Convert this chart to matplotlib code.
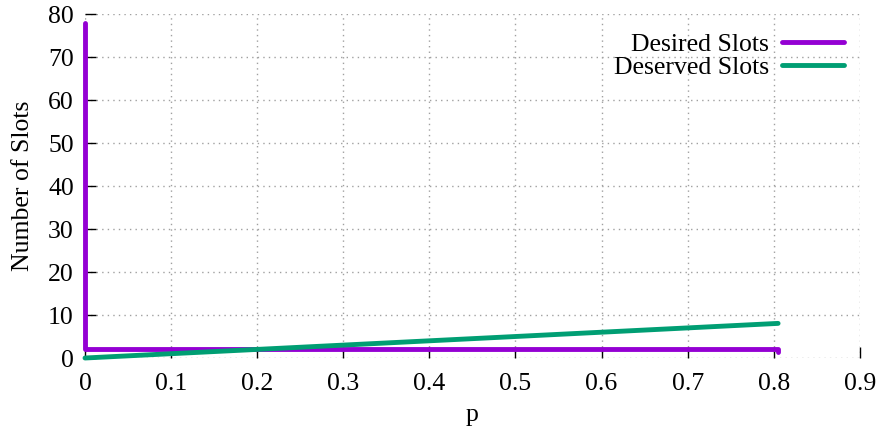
import matplotlib
matplotlib.use("Agg")
import matplotlib.pyplot as plt

# probability p and slot counts
p_desired = [0.0, 0.0, 0.0, 0.80, 0.805, 0.805]
desired_slots = [78, 40, 2, 2, 2, 1.3]
p_deserved = [0.0, 0.2, 0.4, 0.6, 0.805]
deserved_slots = [0.0, 2.0, 4.0, 6.0, 8.05]

x_ticks = [0, 0.1, 0.2, 0.3, 0.4, 0.5, 0.6, 0.7, 0.8, 0.9]
x_labels = ["0", "0.1", "0.2", "0.3", "0.4", "0.5", "0.6", "0.7", "0.8", "0.9"]
y_ticks = [0, 10, 20, 30, 40, 50, 60, 70, 80]

plt.rcParams["font.family"] = ["Liberation Serif", "DejaVu Serif"]
plt.rcParams["font.size"] = 18.5

fig = plt.figure(figsize=(8.92, 4.45), dpi=100)
ax = fig.add_axes([0.0953, 0.1955, 0.964 - 0.0953, 0.9685 - 0.1955])

ax.plot(p_desired, desired_slots, color="#9400d3", lw=3.5, clip_on=False,
        solid_capstyle="round", solid_joinstyle="round", label="Desired Slots", zorder=3)
ax.plot(p_deserved, deserved_slots, color="#009e73", lw=3.5, clip_on=False,
        solid_capstyle="round", label="Deserved Slots", zorder=3)

ax.set_xlim(0, 0.9)
ax.set_ylim(0, 80)
ax.set_xticks(x_ticks)
ax.set_xticklabels(x_labels)
ax.set_yticks(y_ticks)
ax.tick_params(direction="in", length=8, width=1, pad=8, color="black")
ax.tick_params(axis="x", pad=11)
for s in ax.spines.values():
    s.set_visible(False)
ax.grid(True, color="#a0a0a0", linestyle=(0, (1, 3)), linewidth=1)

ax.set_xlabel("p", labelpad=6)
ax.set_ylabel("Number of Slots", labelpad=10)

ax.legend(loc="upper right", frameon=False, markerfirst=False, handlelength=2.45,
          borderaxespad=0.2, labelspacing=0.0, handletextpad=0.5,
          bbox_to_anchor=(1.0, 0.99))

fig.savefig("out.png", dpi=100)
